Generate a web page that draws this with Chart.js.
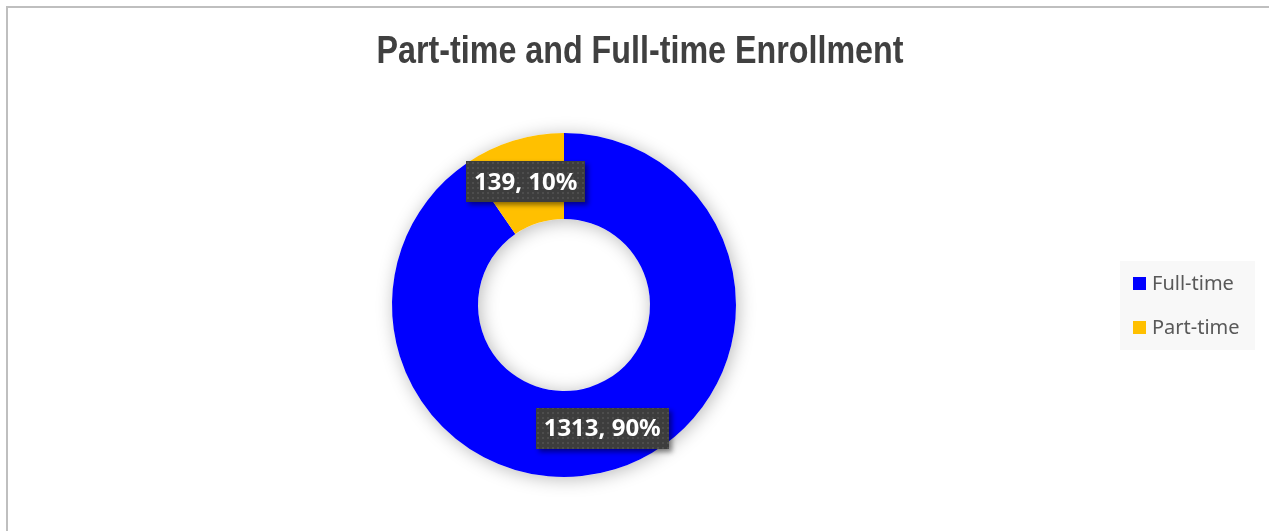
<!DOCTYPE html>
<html>
<head>
<meta charset="utf-8">
<script src="https://cdn.jsdelivr.net/npm/chart.js@4.4.1/dist/chart.umd.min.js"></script>
<style>
    html, body { margin: 0; padding: 0; background: #fff; overflow: hidden; }
    #frame {
        position: absolute; left: 6px; top: 6px; width: 1300px; height: 600px;
        border-top: 2px solid #bfbfbf; border-left: 2px solid #bfbfbf;
    }
    #pie { position: absolute; left: 0; top: 0; }
</style>
</head>
<body>
<div id="frame"></div>
<canvas id="pie" width="1269" height="531"></canvas>
<script>
const chartTitle = 'Part-time and Full-time Enrollment';
const categories = ['Full-time', 'Part-time'];
const enrollment = [1313, 139];
const sliceColors = ['#0000ff', '#ffc000'];

// dotted dark texture for the data label boxes
function labelPattern(ctx) {
    let c = document.createElement('canvas');
    c.width = 5;
    c.height = 5;
    let p = c.getContext('2d');
    p.fillStyle = '#3d3d3d';
    p.fillRect(0, 0, 5, 5);
    p.fillStyle = '#4d4d4d';
    p.fillRect(2, 2, 2, 2);
    return ctx.createPattern(c, 'repeat');
}

const ringShadow = {
    id: 'ringShadow',
    beforeDatasetsDraw(chart) {
        let arc = chart.getDatasetMeta(0).data[0];
        if (!arc) return;
        let ctx = chart.ctx;
        ctx.save();
        ctx.shadowColor = 'rgba(0,0,0,0.28)';
        ctx.shadowBlur = 18;
        ctx.shadowOffsetX = 2;
        ctx.shadowOffsetY = 2;
        ctx.fillStyle = '#ffffff';
        ctx.beginPath();
        ctx.arc(arc.x, arc.y, arc.outerRadius, 0, Math.PI * 2);
        ctx.arc(arc.x, arc.y, arc.innerRadius, Math.PI * 2, 0, true);
        ctx.fill();
        ctx.restore();
    }
};

const extras = {
    id: 'extras',
    afterDraw(chart) {
        let ctx = chart.ctx;
        ctx.save();

        // title (narrow bold look: squeeze a regular bold face)
        ctx.fillStyle = '#404040';
        ctx.font = "bold 38px 'Liberation Sans', Arial, sans-serif";
        ctx.textAlign = 'center';
        ctx.textBaseline = 'alphabetic';
        let tw = ctx.measureText(chartTitle).width;
        ctx.save();
        ctx.translate(640, 63);
        ctx.scale(527 / tw, 1);
        ctx.fillText(chartTitle, 0, 0);
        ctx.restore();

        // data labels
        let total = enrollment.reduce((a, b) => a + b, 0);
        let pattern = labelPattern(ctx);
        ctx.font = "bold 24px 'Noto Sans', sans-serif";
        chart.getDatasetMeta(0).data.forEach((arc, i) => {
            let pos = arc.tooltipPosition();
            let txt = `${enrollment[i]}, ${Math.round(enrollment[i] / total * 100)}%`;
            let w = ctx.measureText(txt).width + 16;
            let h = 41;
            ctx.save();
            ctx.shadowColor = 'rgba(0,0,0,0.45)';
            ctx.shadowBlur = 5;
            ctx.shadowOffsetX = 3;
            ctx.shadowOffsetY = 3;
            ctx.fillStyle = pattern;
            ctx.fillRect(Math.round(pos.x - w / 2), Math.round(pos.y - h / 2), Math.round(w), h);
            ctx.restore();
            ctx.fillStyle = '#ffffff';
            ctx.textAlign = 'center';
            ctx.textBaseline = 'middle';
            ctx.fillText(txt, pos.x, pos.y + 1);
        });

        // legend
        ctx.fillStyle = '#f8f8f8';
        ctx.fillRect(1120, 261, 135, 89);
        ctx.font = "20px 'Noto Sans', sans-serif";
        ctx.textAlign = 'left';
        ctx.textBaseline = 'middle';
        categories.forEach((name, i) => {
            let y = 284 + i * 44;
            ctx.fillStyle = sliceColors[i];
            ctx.fillRect(1133, y - 7, 13, 13);
            ctx.fillStyle = '#595959';
            ctx.fillText(name, 1152, y);
        });
        ctx.restore();
    }
};

let chart = document.getElementById('pie').getContext('2d');
const pie = new Chart(chart, {
    type: 'doughnut',
    data: {
        labels: categories,
        datasets: [{
            data: enrollment,
            backgroundColor: sliceColors,
            borderWidth: 0
        }]
    },
    options: {
        responsive: false,
        devicePixelRatio: 1,
        animation: false,
        cutout: '50%',
        layout: {
            padding: { left: 392, right: 533, top: 133, bottom: 54 }
        },
        plugins: {
            legend: { display: false },
            title: { display: false },
            tooltip: { enabled: false }
        }
    },
    plugins: [ringShadow, extras]
});
</script>
</body>
</html>
